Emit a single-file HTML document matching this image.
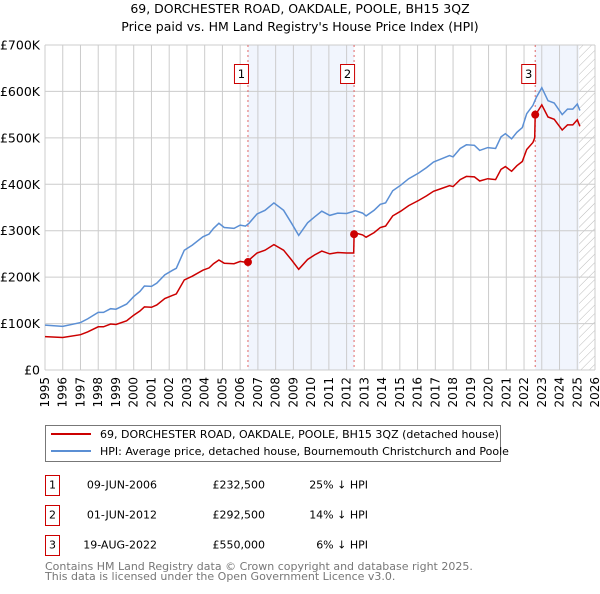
<!DOCTYPE html>
<html><head><meta charset="utf-8"><style>
body{margin:0;background:#fff;font-family:"DejaVu Sans","Liberation Sans",sans-serif;}
svg text{font-family:"DejaVu Sans","Liberation Sans",sans-serif;}
</style></head><body>
<svg id="chart" width="600" height="590" xmlns="http://www.w3.org/2000/svg">
<defs><pattern id="hatch" width="6" height="6" patternUnits="userSpaceOnUse" patternTransform="rotate(45)"><line x1="0" y1="0" x2="0" y2="6" stroke="#bbb" stroke-width="1"/></pattern></defs>
<text x="300" y="13" text-anchor="middle" font-size="12.5">69, DORCHESTER ROAD, OAKDALE, POOLE, BH15 3QZ</text>
<text x="300" y="31" text-anchor="middle" font-size="12.5">Price paid vs. HM Land Registry's House Price Index (HPI)</text>
<g id="plot"></g>
<g>
<rect x="45.5" y="425.5" width="455" height="36" fill="#fff" stroke="#777"/>
<line x1="51" y1="434" x2="91" y2="434" stroke="#cc0000" stroke-width="2"/>
<text x="100" y="438" font-size="11">69, DORCHESTER ROAD, OAKDALE, POOLE, BH15 3QZ (detached house)</text>
<line x1="51" y1="451" x2="91" y2="451" stroke="#5b8fd4" stroke-width="2"/>
<text x="100" y="455" font-size="11">HPI: Average price, detached house, Bournemouth Christchurch and Poole</text>
</g>
<g font-size="11">
<rect x="45.5" y="475.5" width="14" height="20" fill="#fff" stroke="#cc0000"/><text x="52.5" y="488.5" text-anchor="middle">1</text>
<text x="157" y="488.5" text-anchor="end">09-JUN-2006</text><text x="265" y="488.5" text-anchor="end">£232,500</text><text x="368" y="488.5" text-anchor="end">25% ↓ HPI</text>
<rect x="45.5" y="505.5" width="14" height="20" fill="#fff" stroke="#cc0000"/><text x="52.5" y="518.5" text-anchor="middle">2</text>
<text x="157" y="518.5" text-anchor="end">01-JUN-2012</text><text x="265" y="518.5" text-anchor="end">£292,500</text><text x="368" y="518.5" text-anchor="end">14% ↓ HPI</text>
<rect x="45.5" y="535.5" width="14" height="20" fill="#fff" stroke="#cc0000"/><text x="52.5" y="548.5" text-anchor="middle">3</text>
<text x="157" y="548.5" text-anchor="end">19-AUG-2022</text><text x="265" y="548.5" text-anchor="end">£550,000</text><text x="368" y="548.5" text-anchor="end">6% ↓ HPI</text>
</g>
<text x="45" y="570" font-size="11" fill="#777">Contains HM Land Registry data © Crown copyright and database right 2025.</text>
<text x="45" y="580" font-size="11" fill="#777">This data is licensed under the Open Government Licence v3.0.</text>
</svg>
<script>
const hpiYears=[1995,1996,1997,1997.4,1998,1998.3,1998.7,1999,1999.6,2000,2000.35,2000.6,2001,2001.3,2001.75,2002.2,2002.4,2002.85,2003.3,2003.9,2004.25,2004.5,2004.8,2005.1,2005.65,2006,2006.3,2006.5,2006.95,2007.4,2007.9,2008.45,2008.9,2009.3,2009.8,2010.2,2010.6,2011.05,2011.5,2012,2012.5,2012.9,2013.1,2013.55,2013.9,2014.2,2014.6,2015.05,2015.5,2016.05,2016.5,2016.9,2017.35,2017.8,2018,2018.4,2018.75,2019.2,2019.5,2019.95,2020.4,2020.7,2020.95,2021.3,2021.6,2021.9,2022.15,2022.5,2022.7,2023,2023.35,2023.7,2024.15,2024.45,2024.75,2025,2025.15];
const hpiValues=[96.6,94,102,110,124,124,132,131,142,158,169,181,180,187,205,215,219,258,269,287,293,305,316,307,305,312,310,316,336,344,360,344,316,290,317,330,342,333,338,337,343,338,332,344,357,360,386,398,412,424,436,448,455,462,459,477,485,484,473,479,477,502,509,498,512,522,552,570,588,608,580,575,550,562,562,573,559];
const priceYears=[1995,1996,1997,1997.4,1998,1998.3,1998.7,1999,1999.6,2000,2000.35,2000.6,2001,2001.3,2001.75,2002.2,2002.4,2002.85,2003.3,2003.9,2004.25,2004.5,2004.8,2005.1,2005.65,2006,2006.3,2006.44,2006.5,2006.95,2007.4,2007.9,2008.45,2008.9,2009.3,2009.8,2010.2,2010.6,2011.05,2011.5,2012,2012.4,2012.42,2012.5,2012.9,2013.1,2013.55,2013.9,2014.2,2014.6,2015.05,2015.5,2016.05,2016.5,2016.9,2017.35,2017.8,2018,2018.4,2018.75,2019.2,2019.5,2019.95,2020.4,2020.7,2020.95,2021.3,2021.6,2021.9,2022.15,2022.5,2022.6,2022.63,2022.7,2023,2023.35,2023.7,2024.15,2024.45,2024.75,2025,2025.15];
const priceValues=[72,70,76,82,93,93,99,98,106,118,127,136,135,140,154,161,164,194,202,215,220,229,237,230,229,234,232,232.5,237,252,258,270,258,237,217,238,248,256,250,253,252,252,292.5,295,291,286,296,307,310,332,342,354,365,375,385,391,397,395,410,417,416,407,412,410,432,438,428,440,449,475,490,500,550,553,571,545,540,517,528,528,539,525];
const saleLabels=["1","2","3"];
const saleYears=[2006.44,2012.42,2022.63];
const saleValues=[232.5,292.5,550];
const yTicks=[0,100,200,300,400,500,600,700];
const yTickLabels=["£0","£100K","£200K","£300K","£400K","£500K","£600K","£700K"];
const xTicks=[];for(let y=1995;y<=2026;y++)xTicks.push(y);

const X0=45,X1=595,Y0=370,Y1=45;
const x=v=>X0+(v-1995)*(X1-X0)/31;
const y=v=>Y0-v*(Y0-Y1)/700;
const NS="http://www.w3.org/2000/svg";
const g=document.getElementById('plot');
function mk(t,a){const e=document.createElementNS(NS,t);for(const k in a)e.setAttribute(k,a[k]);g.appendChild(e);return e;}
for(let i=0;i<saleYears.length;i++){
  const end=i+1<saleYears.length?saleYears[i+1]:2025.1;
  if(i===0||i===2){const r=mk('rect',{x:x(saleYears[i]),y:Y1,width:x(end)-x(saleYears[i]),height:Y0-Y1,fill:'#eef3fc',opacity:0.8});
  
  }
}
const h=mk('rect',{x:x(2025.1),y:Y1,width:X1-x(2025.1),height:Y0-Y1,fill:'url(#hatch)'});


xTicks.forEach(t=>{const l=mk('line',{x1:x(t),x2:x(t),y1:Y1,y2:Y0,stroke:'#ccc'});


const tx=mk('text',{x:0,y:0,'font-size':12,'text-anchor':'end',transform:`translate(${x(t)+4},${Y0+7}) rotate(-90)`});tx.textContent=t;

});
yTicks.forEach((t,i)=>{const l=mk('line',{x1:X0,x2:X1,y1:y(t),y2:y(t),stroke:'#ccc'});


const tx=mk('text',{x:X0-5,y:y(t)+4.5,'font-size':12.5,'text-anchor':'end'});tx.textContent=yTickLabels[i];

});
saleYears.forEach((s,i)=>{const l=mk('line',{x1:x(s),x2:x(s),y1:Y1,y2:Y0,stroke:'#e06666','stroke-dasharray':'2,3'});


const r=mk('rect',{x:x(s)-13.5,y:64.5,width:14,height:19,fill:'#fff',stroke:'#cc0000'});


const t=mk('text',{x:x(s)-6.5,y:78,'font-size':11.5,'text-anchor':'middle'});t.textContent=saleLabels[i];

});
const pts=(xs,vs)=>xs.map((v,i)=>x(v).toFixed(1)+','+y(vs[i]).toFixed(1)).join(' ');
const hp=mk('polyline',{points:pts(hpiYears,hpiValues),fill:'none',stroke:'#5b8fd4','stroke-width':1.5});


const pp=mk('polyline',{points:pts(priceYears,priceValues),fill:'none',stroke:'#cc0000','stroke-width':1.5});


saleYears.forEach((s,i)=>{const c=mk('circle',{cx:x(s),cy:y(saleValues[i]),r:4,fill:'#cc0000'});

});
</script>
</body></html>
